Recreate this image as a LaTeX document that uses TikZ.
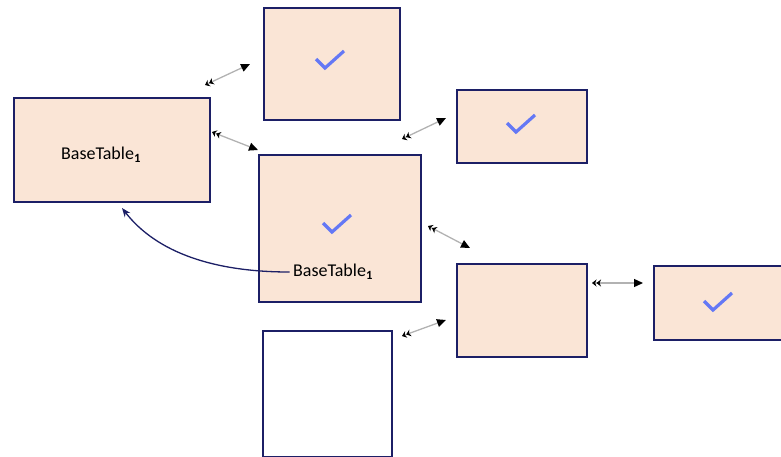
\documentclass[tikz,border=0pt]{standalone}
\usepackage{fontspec}
\setmainfont{Carlito}
\usetikzlibrary{arrows.meta,positioning}

\definecolor{peach}{HTML}{FAE5D6}
\definecolor{navy}{HTML}{1C1F66}
\definecolor{tickblue}{HTML}{6478F5}

\tikzset{
  tbl/.style={draw=navy, line width=1.8pt, fill=peach, anchor=north west, inner sep=0pt},
  emptytbl/.style={tbl, fill=white},
  link/.style={draw=gray!60, line width=1.3pt,
    {Stealth[length=4.5pt,width=7pt,color=black]Stealth[length=4.5pt,width=7pt,color=black]}-{Triangle[length=9pt,width=8pt,color=black]}},
  back/.style={draw=navy, line width=1.3pt, -{Stealth[length=9pt,width=7pt]}},
  lbl/.style={font=\fontsize{18}{21}\selectfont},
  chk/.pic={\draw[tickblue, line width=3.2pt] (-14,-1) -- (-5,8) -- (14,-9);}
}

\begin{document}
\begin{tikzpicture}[x=1pt, y=-1pt]
\useasboundingbox (0,0) rectangle (781,456);

% tables
\node[tbl, minimum width=196pt, minimum height=104pt] (base) at (13,97) {};
\node[tbl, minimum width=136pt, minimum height=112pt] (top) at (263,7) {};
\node[tbl, minimum width=162pt, minimum height=147pt] (mid) at (258,154) {};
\node[tbl, minimum width=130pt, minimum height=73pt] (rtop) at (456,89) {};
\node[tbl, minimum width=130pt, minimum height=93pt] (rmid) at (456,263) {};
\node[tbl, minimum width=128pt, minimum height=74pt] (far) at (653,265) {};
\node[emptytbl, minimum width=129pt, minimum height=126pt] (low) at (262,330) {};

% labels
\node[lbl] (baselbl) at (101,155) {BaseTable\textsubscript{\textbf{1}}};
\node[lbl] (midlbl) at (333,272) {BaseTable\textsubscript{\textbf{1}}};

% ticks
\pic at (330,60) {chk};
\pic at (337,224) {chk};
\pic at (521,124) {chk};
\pic at (718,302) {chk};

% link ends
\coordinate (a1) at (205,85);   \coordinate (a2) at (250,64);
\coordinate (b1) at (212,132);  \coordinate (b2) at (258,150);
\coordinate (c1) at (402,139);  \coordinate (c2) at (446,118);
\coordinate (d1) at (428,226);  \coordinate (d2) at (470,248);
\coordinate (e1) at (592,283);  \coordinate (e2) at (643,283);
\coordinate (f1) at (402,336);  \coordinate (f2) at (446,320);
\coordinate (tgt) at (122,208);

\draw[link] (a1) -- (a2);
\draw[link] (b1) -- (b2);
\draw[link] (c1) -- (c2);
\draw[link] (d1) -- (d2);
\draw[link] (e1) -- (e2);
\draw[link] (f1) -- (f2);

% back reference
\draw[back] (midlbl.west) .. controls +(-75,0) and +(35,45) .. (tgt);
\end{tikzpicture}
\end{document}
